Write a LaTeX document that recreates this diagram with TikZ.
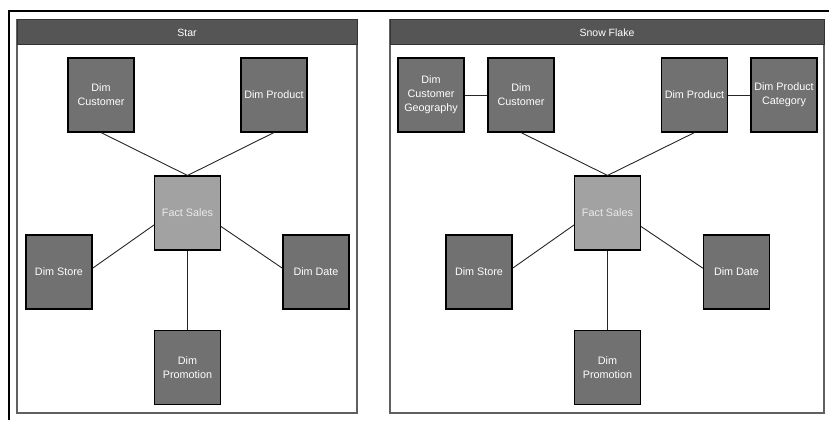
\documentclass[tikz,border=0pt]{standalone}
\usepackage{fontspec}
\setmainfont{Liberation Sans}
\usetikzlibrary{calc}
\definecolor{dimfill}{HTML}{717171}
\definecolor{factfill}{HTML}{A2A2A2}
\definecolor{headfill}{HTML}{555555}
\definecolor{panelline}{HTML}{606060}
\tikzset{
  dimbox/.style={draw=black, line width=1.1pt, fill=dimfill, minimum width=66pt, minimum height=74pt,
    inner sep=1pt, align=center, text=white, font=\fontsize{10.8}{13.8}\selectfont},
  factbox/.style={dimbox, fill=factfill, text=white!92!black},
  link/.style={draw=black!85, line width=0.9pt},
  panel/.style={draw=panelline, line width=1.1pt},
  header/.style={draw=black!80, line width=1pt, fill=headfill},
  headtext/.style={text=white, font=\fontsize{10.5}{12}\selectfont}
}
\begin{document}
\begin{tikzpicture}[x=1pt,y=-1pt]
\useasboundingbox (0,0) rectangle (829,420);
% outer frame
\draw[black, line width=1.4pt] (9,420) -- (9,11) -- (829,11);
% panels
\draw[panel] (17,20) rectangle (357,413);
\draw[header] (17,20) rectangle (357,45);
\node[headtext] (titleL) at (187,32.5) {Star};
\draw[panel] (390,20) rectangle (824,413);
\draw[header] (390,20) rectangle (824,45);
\node[headtext] (titleR) at (607,32.5) {Snow Flake};
% star nodes
\node[dimbox] (cust) at (101,95) {Dim\\Customer};
\node[dimbox] (prod) at (274,95) {Dim Product};
\node[factbox] (fact) at (187.5,213) {Fact Sales};
\node[dimbox] (store) at (59,272) {Dim Store};
\node[dimbox] (date) at (316,272) {Dim Date};
\node[dimbox] (promo) at (187.5,367.5) {Dim\\Promotion};
% snowflake nodes
\node[dimbox] (geo) at (431,95) {Dim\\Customer\\Geography};
\node[dimbox] (rcust) at (521,95) {Dim\\Customer};
\node[dimbox] (rprod) at (694.5,95) {Dim Product};
\node[dimbox] (cat) at (784,95) {Dim Product\\Category};
\node[factbox] (rfact) at (607.5,213) {Fact Sales};
\node[dimbox] (rstore) at (479,272) {Dim Store};
\node[dimbox] (rdate) at (736.5,272) {Dim Date};
\node[dimbox] (rpromo) at (607.5,367.5) {Dim\\Promotion};
% star links
\draw[link] (cust.south) -- (fact.north);
\draw[link] (prod.south) -- (fact.north);
\draw[link] ($(store.north east)!0.45!(store.south east)$) -- ($(fact.north west)!0.66!(fact.south west)$);
\draw[link] ($(date.north west)!0.45!(date.south west)$) -- ($(fact.north east)!0.68!(fact.south east)$);
\draw[link] (fact.south) -- (promo.north);
% snowflake links
\draw[link] (geo.east) -- (rcust.west);
\draw[link] (rprod.east) -- (cat.west);
\draw[link] (rcust.south) -- (rfact.north);
\draw[link] (rprod.south) -- (rfact.north);
\draw[link] ($(rstore.north east)!0.45!(rstore.south east)$) -- ($(rfact.north west)!0.66!(rfact.south west)$);
\draw[link] ($(rdate.north west)!0.45!(rdate.south west)$) -- ($(rfact.north east)!0.68!(rfact.south east)$);
\draw[link] (rfact.south) -- (rpromo.north);
\end{tikzpicture}
\end{document}
